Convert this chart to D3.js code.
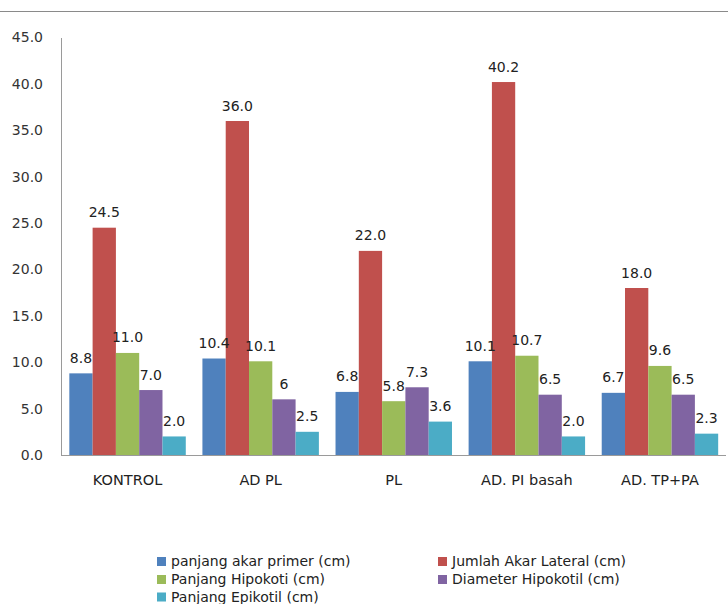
<!DOCTYPE html>
<html>
<head>
<meta charset="utf-8">
<script src="https://cdn.jsdelivr.net/npm/d3@7"></script>
<style>
  html, body { margin: 0; padding: 0; background: #fff; }
  svg { display: block; }
</style>
</head>
<body>
<svg id="chart" width="728" height="604"></svg>
<script>
// Treatments along the x axis
const categories = ["KONTROL", "AD PL", "PL", "AD. PI basah", "AD. TP+PA"];

// One array per measured variable
const panjangAkarPrimer  = [8.8, 10.4, 6.8, 10.1, 6.7];
const jumlahAkarLateral  = [24.5, 36.0, 22.0, 40.2, 18.0];
const panjangHipokoti    = [11.0, 10.1, 5.8, 10.7, 9.6];
const diameterHipokotil  = [7.0, 6, 7.3, 6.5, 6.5];
const panjangEpikotil    = [2.0, 2.5, 3.6, 2.0, 2.3];

// Decimal places shown in each series' value labels (one label is printed as a bare integer)
const diameterDecimals = [1, 0, 1, 1, 1];

const seriesNames = [
  "panjang akar primer (cm)",
  "Jumlah Akar Lateral (cm)",
  "Panjang Hipokoti (cm)",
  "Diameter Hipokotil (cm)",
  "Panjang Epikotil (cm)"
];
const seriesColors = ["#4F81BD", "#C0504D", "#9BBB59", "#8064A2", "#4BACC6"];

const yTicks = [0, 5, 10, 15, 20, 25, 30, 35, 40, 45];

const series = [
  { name: seriesNames[0], color: seriesColors[0], values: panjangAkarPrimer },
  { name: seriesNames[1], color: seriesColors[1], values: jumlahAkarLateral },
  { name: seriesNames[2], color: seriesColors[2], values: panjangHipokoti },
  { name: seriesNames[3], color: seriesColors[3], values: diameterHipokotil, decimals: diameterDecimals },
  { name: seriesNames[4], color: seriesColors[4], values: panjangEpikotil }
];

const svg = d3.select("#chart");
const W = 728;
const plot = { left: 61, right: 726.5, top: 37.5, bottom: 455 };

// frame line across the top
svg.append("line")
  .attr("x1", 0).attr("x2", W).attr("y1", 11.5).attr("y2", 11.5)
  .attr("stroke", "#8a8a8a").attr("stroke-width", 1.2);

const x0 = d3.scaleBand()
  .domain(categories)
  .range([plot.left, plot.right])
  .paddingInner(0.125)
  .paddingOuter(0.0625);

const x1 = d3.scaleBand()
  .domain(d3.range(series.length))
  .range([0, x0.bandwidth()]);

const y = d3.scaleLinear()
  .domain([0, 45])
  .range([plot.bottom, plot.top]);

const fontAxis = "'DejaVu Sans', Verdana, sans-serif";

// y axis
const yAxis = svg.append("g")
  .attr("transform", `translate(${plot.left},0)`)
  .call(d3.axisLeft(y).tickValues(yTicks).tickFormat(d3.format(".1f")).tickSize(0).tickPadding(18));
yAxis.select(".domain").attr("stroke", "#9a9a9a");
yAxis.selectAll("text")
  .attr("font-family", fontAxis).attr("font-size", 14).attr("fill", "#333");

// x axis
const xAxis = svg.append("g")
  .attr("transform", `translate(0,${plot.bottom})`)
  .call(d3.axisBottom(x0).tickSize(0).tickPadding(20));
xAxis.select(".domain").attr("stroke", "#9a9a9a")
  .attr("d", `M${plot.left},0.5H${W - 2}`);
xAxis.selectAll("text")
  .attr("font-family", fontAxis).attr("font-size", 14.5).attr("fill", "#222");

// bars
const groups = svg.append("g").selectAll("g")
  .data(categories)
  .join("g")
  .attr("transform", c => `translate(${x0(c)},0)`);

groups.each(function (c, ci) {
  const g = d3.select(this);
  series.forEach((s, si) => {
    const v = s.values[ci];
    g.append("rect")
      .attr("x", x1(si))
      .attr("width", x1.bandwidth())
      .attr("y", y(v))
      .attr("height", y(0) - y(v))
      .attr("fill", s.color);
  });
  series.forEach((s, si) => {
    const v = s.values[ci];
    const dec = s.decimals ? s.decimals[ci] : 1;
    g.append("text")
      .attr("x", x1(si) + x1.bandwidth() / 2)
      .attr("y", y(v) - 10.5)
      .attr("text-anchor", "middle")
      .attr("font-family", fontAxis)
      .attr("font-size", 14)
      .attr("fill", "#222")
      .text(v.toFixed(dec));
  });
});

// legend: two columns, three rows (positions are text baselines)
const legendPos = [
  { x: 157, y: 566 }, { x: 438, y: 566 },
  { x: 157, y: 584 }, { x: 438, y: 584 },
  { x: 157, y: 601.5 }
];
const legend = svg.append("g").selectAll("g")
  .data(series)
  .join("g")
  .attr("transform", (d, i) => `translate(${legendPos[i].x},${legendPos[i].y})`);
legend.append("rect")
  .attr("x", 0).attr("y", -9).attr("width", 9).attr("height", 9)
  .attr("fill", d => d.color);
legend.append("text")
  .attr("x", 14).attr("y", 0)
  .attr("font-family", fontAxis).attr("font-size", 14).attr("fill", "#222")
  .text(d => d.name);
</script>
</body>
</html>
